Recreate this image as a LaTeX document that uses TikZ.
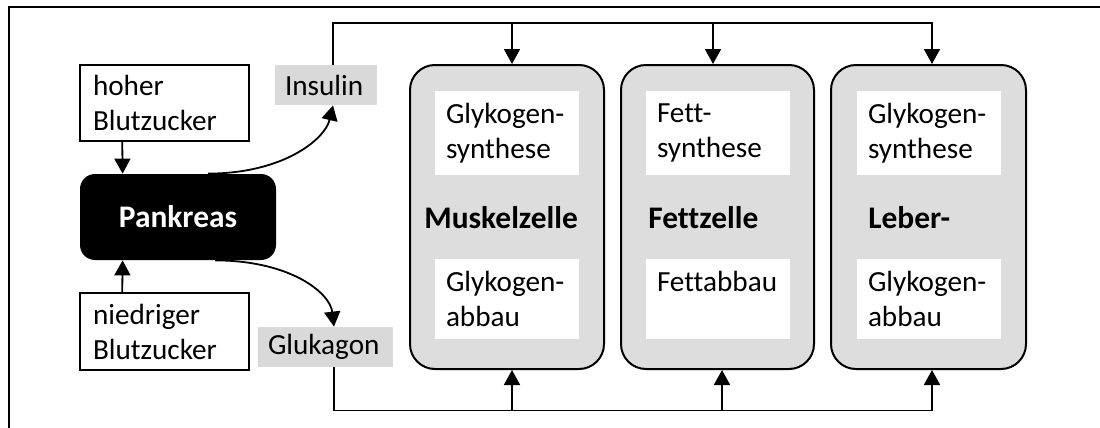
\documentclass[tikz,border=0pt]{standalone}
\usepackage{fontspec}
\setmainfont{Carlito}[Ligatures=NoCommon]
\usetikzlibrary{arrows.meta,calc}
\definecolor{cellgray}{HTML}{DDDDDD}
\definecolor{labelgray}{HTML}{D9D9D9}
\begin{document}
\begin{tikzpicture}[x=0.5pt,y=-0.5pt,
  txt/.style={font=\fontsize{14.6}{17.5}\selectfont},
  bold/.style={font=\fontsize{15.7}{18}\selectfont\bfseries},
  arr/.style={line width=0.9pt,-{Triangle[length=7.5pt,width=8pt]}},
  signal/.style={draw,line width=0.75pt,fill=white,txt,align=left,
    inner xsep=6.5pt,inner ysep=0pt,text width=71.5pt,minimum height=38pt},
  hormone/.style={fill=labelgray,txt,align=left,inner xsep=5pt,inner ysep=0pt,minimum height=20pt},
  cell/.style={draw,line width=1pt,fill=cellgray,rounded corners=12.5pt,
    minimum height=152pt,inner sep=0pt},
  process/.style={fill=white,txt,align=left,inner xsep=5.5pt,inner ysep=0pt,
    text width=61pt,minimum height=42pt},
  title/.style={bold,anchor=west,inner sep=0pt}]
\useasboundingbox (0,0) rectangle (1100,428);
% outer frame, open towards right and bottom
\begin{scope}
  \clip (0,0) rectangle (1100,428);
  \draw[line width=1pt] (9,440) -- (9,7) -- (1110,7);
\end{scope}

% left side: signals, pancreas, hormones
\node[signal] (hoch) at (164.5,103) {hoher\\Blutzucker};
\node[signal,minimum height=38.5pt] (nied) at (164.5,331.5) {niedriger\\Blutzucker};
\node[fill=black,text=white,bold,rounded corners=7.5pt,minimum width=98pt,
  minimum height=43pt,inner sep=0pt] (pank) at (178,217) {Pankreas};
\node[hormone,text width=41pt] (ins) at (326,85) {Insulin};
\node[hormone,text width=57.5pt] (glu) at (325.5,347) {Glukagon};

% target cells
\node[cell,minimum width=97pt] (muskel) at (507,217) {};
\node[cell,minimum width=96.5pt] (fett) at (717.5,217) {};
\node[cell,minimum width=97.5pt] (leber) at (928.5,217) {};

\node[process] (m1) at (507,133) {Glykogen-\\synthese};
\node[process,minimum height=40pt] (m2) at (507,299) {Glykogen-\\abbau};
\node[process] (f1) at (718,133) {Fett-\\synthese};
\node[process,minimum height=40pt] (f2) at (718,299) {Fettabbau\\\phantom{x}};
\node[process] (l1) at (929,133) {Glykogen-\\synthese};
\node[process,minimum height=40pt] (l2) at (929,299) {Glykogen-\\abbau};

\node[title] (mt) at (424,218) {Muskelzelle};
\node[title] (ft) at (648,218) {Fettzelle};
\node[title] (lt) at (868,218) {Leber-};

% signals to pancreas
\draw[arr] ($(hoch.south west)+(43,0)$) -- ($(pank.north west)+(43,0)$);
\draw[arr] ($(nied.north west)+(43,0)$) -- ($(pank.south west)+(43,0)$);

% pancreas releases hormones
\draw[arr] ($(pank.north)+(30,0)$) .. controls +(75,0) and +(-8,34) .. ($(ins.south)+(7,0)$);
\draw[arr] ($(pank.south)+(37,0)$) .. controls +(75,0) and +(-4,-34) .. ($(glu.north)+(8.5,0)$);

% insulin distribution along the top
\draw[arr] ($(ins.north)+(7,0)$) -- ++(0,-42) -| ($(leber.north)+(3.5,0)$);
\draw[arr] ($(muskel.north)+(5,-42)$) -- ($(muskel.north)+(5,0)$);
\draw[arr] ($(fett.north)+(-4.5,-42)$) -- ($(fett.north)+(-4.5,0)$);

% glucagon distribution along the bottom
\draw[arr] ($(glu.south)+(8.5,0)$) -- ++(0,43) -| ($(leber.south)+(3.5,0)$);
\draw[arr] ($(muskel.south)+(5,41)$) -- ($(muskel.south)+(5,0)$);
\draw[arr] ($(fett.south)+(4.5,41)$) -- ($(fett.south)+(4.5,0)$);
\end{tikzpicture}
\end{document}
